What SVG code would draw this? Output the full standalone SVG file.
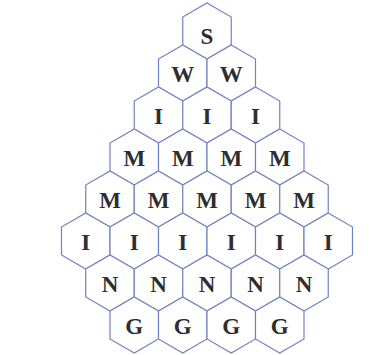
<svg xmlns="http://www.w3.org/2000/svg" xmlns:xlink="http://www.w3.org/1999/xlink" width="392" height="355" viewBox="0 0 392 355">
<style>
.hex{fill:#ffffff;stroke:#7282c0;stroke-width:1.2}
.t{font-family:"Liberation Serif","Times New Roman",serif;font-weight:bold;font-size:23px;fill:#2e2e2e;text-anchor:middle}
</style>
<defs>
<path id="h" class="hex" d="M0,-28L24.25,-14L24.25,14L0,28L-24.25,14L-24.25,-14Z"/>
</defs>
<rect width="392" height="355" fill="#ffffff"/>
<g id="connectors"/>
<g id="r0c0" transform="translate(207,31)"><use href="#h"/><text class="t" y="13">S</text></g>
<g id="r1c0" transform="translate(182.75,73)"><use href="#h"/><text class="t" y="9">W</text></g>
<g id="r1c1" transform="translate(231.25,73)"><use href="#h"/><text class="t" y="9">W</text></g>
<g id="r2c0" transform="translate(158.5,115)"><use href="#h"/><text class="t" y="8.5">I</text></g>
<g id="r2c1" transform="translate(207,115)"><use href="#h"/><text class="t" y="8.5">I</text></g>
<g id="r2c2" transform="translate(255.5,115)"><use href="#h"/><text class="t" y="8.5">I</text></g>
<g id="r3c0" transform="translate(134.25,157)"><use href="#h"/><text class="t" y="8.5">M</text></g>
<g id="r3c1" transform="translate(182.75,157)"><use href="#h"/><text class="t" y="8.5">M</text></g>
<g id="r3c2" transform="translate(231.25,157)"><use href="#h"/><text class="t" y="8.5">M</text></g>
<g id="r3c3" transform="translate(279.75,157)"><use href="#h"/><text class="t" y="8.5">M</text></g>
<g id="r4c0" transform="translate(110,199)"><use href="#h"/><text class="t" y="8.5">M</text></g>
<g id="r4c1" transform="translate(158.5,199)"><use href="#h"/><text class="t" y="8.5">M</text></g>
<g id="r4c2" transform="translate(207,199)"><use href="#h"/><text class="t" y="8.5">M</text></g>
<g id="r4c3" transform="translate(255.5,199)"><use href="#h"/><text class="t" y="8.5">M</text></g>
<g id="r4c4" transform="translate(304,199)"><use href="#h"/><text class="t" y="8.5">M</text></g>
<g id="r5c0" transform="translate(85.75,241)"><use href="#h"/><text class="t" y="8.5">I</text></g>
<g id="r5c1" transform="translate(134.25,241)"><use href="#h"/><text class="t" y="8.5">I</text></g>
<g id="r5c2" transform="translate(182.75,241)"><use href="#h"/><text class="t" y="8.5">I</text></g>
<g id="r5c3" transform="translate(231.25,241)"><use href="#h"/><text class="t" y="8.5">I</text></g>
<g id="r5c4" transform="translate(279.75,241)"><use href="#h"/><text class="t" y="8.5">I</text></g>
<g id="r5c5" transform="translate(328.25,241)"><use href="#h"/><text class="t" y="8.5">I</text></g>
<g id="r6c0" transform="translate(110,283)"><use href="#h"/><text class="t" y="8.5">N</text></g>
<g id="r6c1" transform="translate(158.5,283)"><use href="#h"/><text class="t" y="8.5">N</text></g>
<g id="r6c2" transform="translate(207,283)"><use href="#h"/><text class="t" y="8.5">N</text></g>
<g id="r6c3" transform="translate(255.5,283)"><use href="#h"/><text class="t" y="8.5">N</text></g>
<g id="r6c4" transform="translate(304,283)"><use href="#h"/><text class="t" y="8.5">N</text></g>
<g id="r7c0" transform="translate(134.25,325)"><use href="#h"/><text class="t" y="8.5">G</text></g>
<g id="r7c1" transform="translate(182.75,325)"><use href="#h"/><text class="t" y="8.5">G</text></g>
<g id="r7c2" transform="translate(231.25,325)"><use href="#h"/><text class="t" y="8.5">G</text></g>
<g id="r7c3" transform="translate(279.75,325)"><use href="#h"/><text class="t" y="8.5">G</text></g>
</svg>
